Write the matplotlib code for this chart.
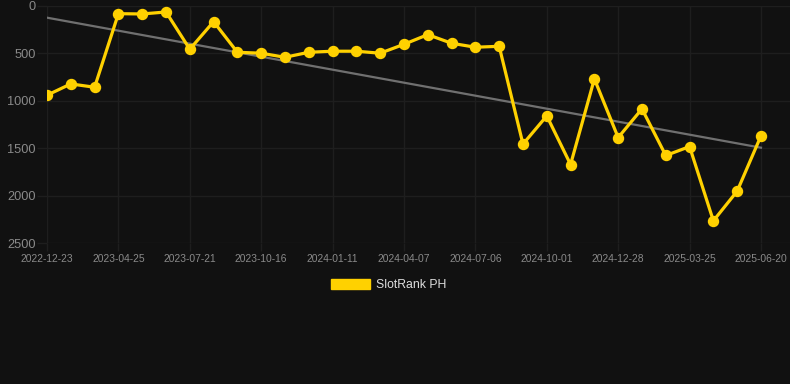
import numpy as np
import matplotlib
matplotlib.use("Agg")
from matplotlib import pyplot as plt
from matplotlib.patches import Patch

# rank values (lower is better, axis inverted)
ranks = [941, 822, 857, 81, 84, 63, 456, 165, 488, 498,
         541, 488, 477, 477, 498, 404, 302, 393, 435, 425,
         1457, 1159, 1672, 769, 1388, 1085, 1577, 1483, 2266, 1953,
         1370]
tick_labels = ['2022-12-23', '2023-04-25', '2023-07-21', '2023-10-16',
               '2024-01-11', '2024-04-07', '2024-07-06', '2024-10-01',
               '2024-12-28', '2025-03-25', '2025-06-20']
y_ticks = [0, 500, 1000, 1500, 2000, 2500]

bg = '#111111'
grid_col = '#1e1e1e'
yellow = '#FFD100'

plt.rcParams['font.family'] = ['Liberation Sans', 'DejaVu Sans']

fig = plt.figure(figsize=(7.9, 3.84), dpi=100, facecolor=bg)
ax = fig.add_axes([47 / 790, 141 / 384, 743 / 790, 237 / 384], facecolor=bg)

X = np.arange(len(ranks))
Y = np.array(ranks)

# linear trend
k, b = np.polyfit(X, Y, 1)
ax.plot(X, k * X + b, color='#707070', linewidth=1.6, zorder=2)

ax.plot(X, Y, color=yellow, linewidth=2.3, marker='o', markersize=7.2,
        markerfacecolor=yellow, markeredgecolor=yellow, zorder=3)

ax.set_xlim(0, 31.22)
ax.set_ylim(2500, 0)

ax.set_xticks(X[::3])
ax.set_xticklabels(tick_labels)
ax.set_yticks(y_ticks)

ax.grid(True, color=grid_col, linewidth=1)
ax.set_axisbelow(True)
for s in ax.spines.values():
    s.set_visible(False)

ax.tick_params(axis='x', colors=grid_col, length=6, width=1, pad=2,
               labelsize=7.4, labelcolor='#8a8a8a')
ax.tick_params(axis='y', colors=grid_col, length=7, width=1, pad=1,
               labelsize=9.2, labelcolor='#8a8a8a')

leg = fig.legend(handles=[Patch(facecolor=yellow, edgecolor=yellow, label='SlotRank PH')],
                 loc='center', bbox_to_anchor=(389 / 790, 1 - 285 / 384),
                 frameon=False, fontsize=8.8, handlelength=3.2, handleheight=0.9,
                 handletextpad=0.5)
for t in leg.get_texts():
    t.set_color('#dddddd')

fig.savefig('out.png', dpi=100, facecolor=bg)
